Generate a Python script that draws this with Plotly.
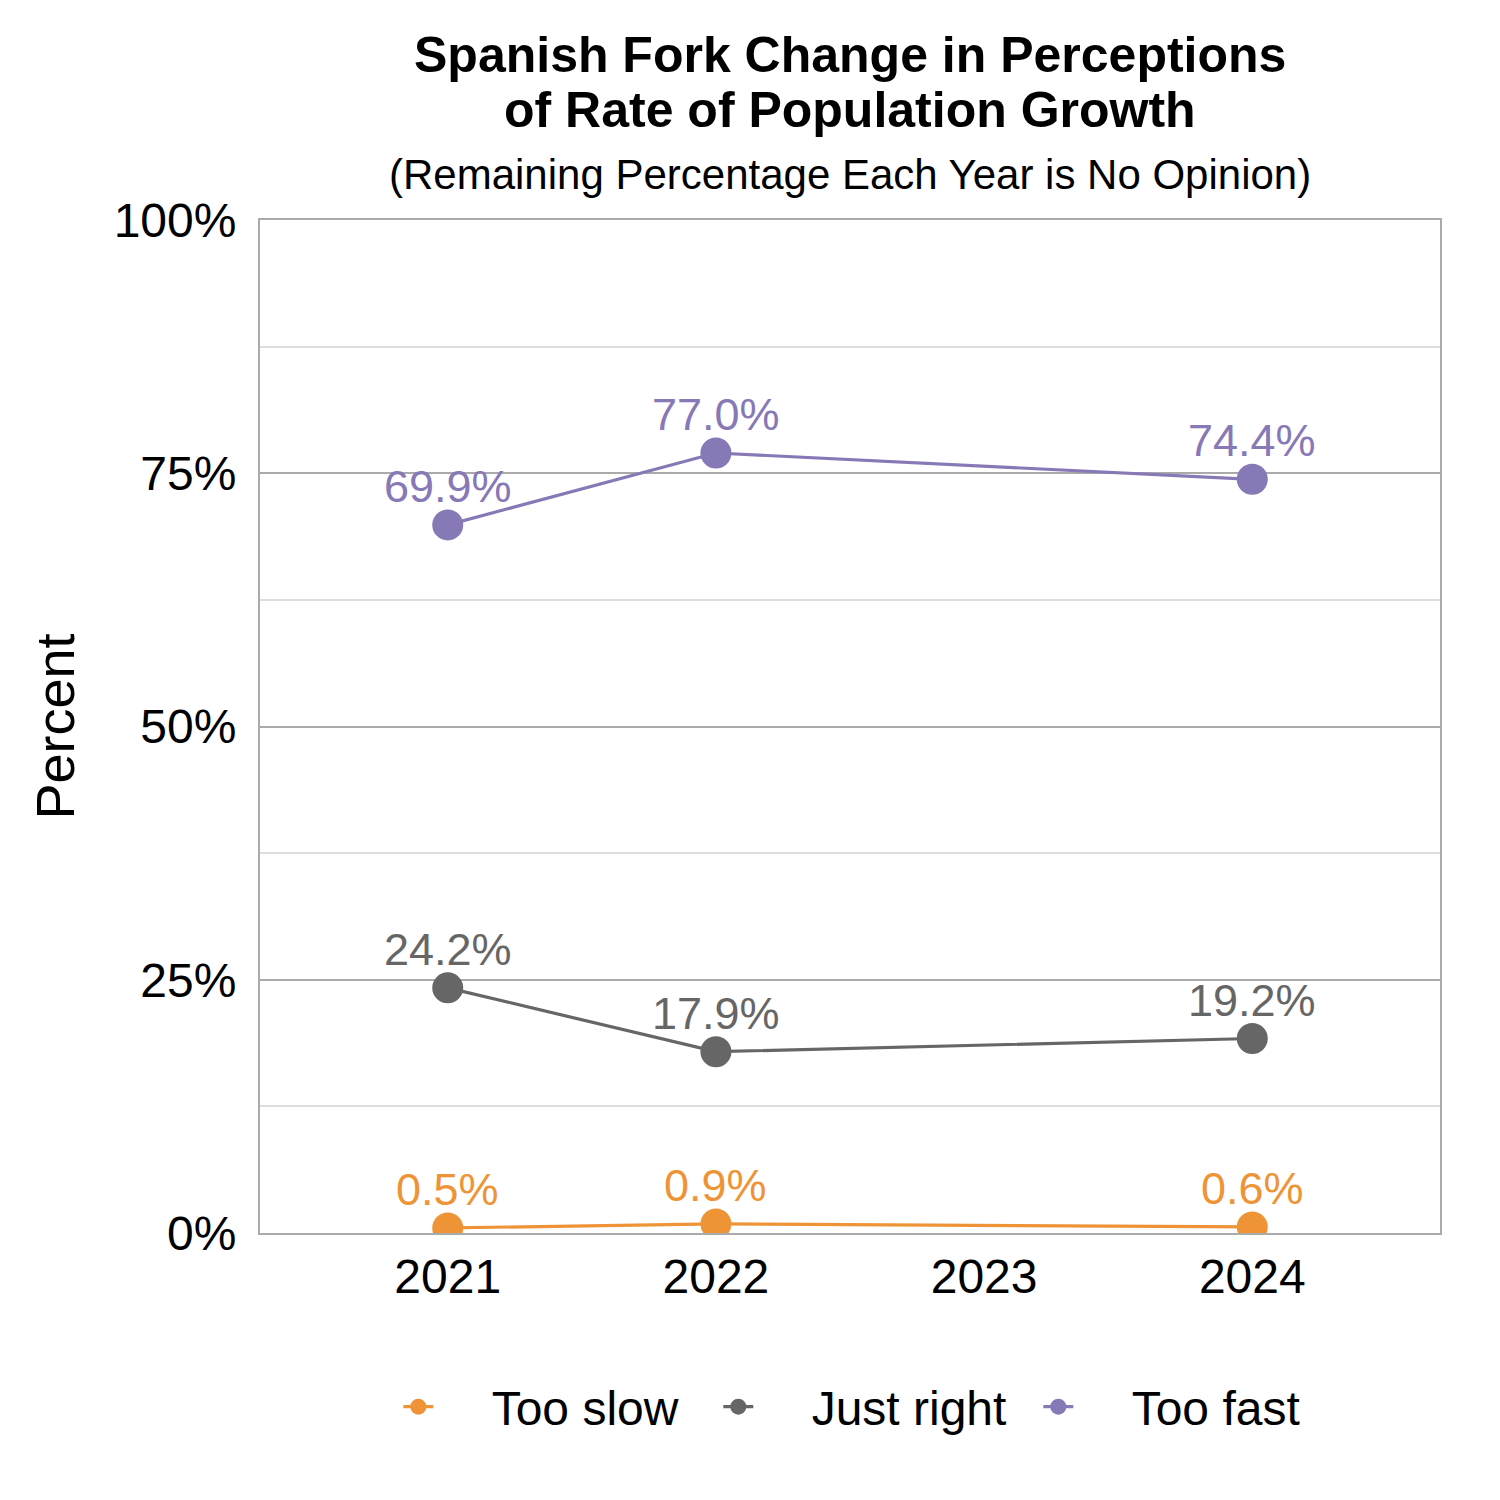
import plotly.graph_objects as go

# ── Datos ─────────────────────────────────────────────────────────────────────
YEARS      = [2021, 2022, 2024]
TOO_SLOW   = [0.5, 0.9, 0.6]
JUST_RIGHT = [24.2, 17.9, 19.2]
TOO_FAST   = [69.9, 77.0, 74.4]

X_TICKS = [2021, 2022, 2023, 2024]
Y_TICKS = [0, 25, 50, 75, 100]

SERIES = [
    ("Too slow",   TOO_SLOW,   "#EE9436"),
    ("Just right", JUST_RIGHT, "#666666"),
    ("Too fast",   TOO_FAST,   "#8778B6"),
]

TITLE_LINES = ["Spanish Fork Change in Perceptions", "of Rate of Population Growth"]
SUBTITLE    = "(Remaining Percentage Each Year is No Opinion)"

FONT = "Liberation Sans, Arial, sans-serif"

# plot area (px, referencia): top 220, bottom 1233
PLOT_TOP, PLOT_BOTTOM = 220, 1233


def py_to_paper(py):
    return (PLOT_BOTTOM - py) / (PLOT_BOTTOM - PLOT_TOP)


fig = go.Figure()
for name, vals, color in SERIES:
    fig.add_trace(go.Scatter(
        x=YEARS, y=vals, name="\u00a0\u00a0\u00a0\u00a0" + name,
        mode="lines+markers",
        line=dict(color=color, width=3.2),
        marker=dict(color=color, size=31),
        cliponaxis=True,
    ))
    # etiquetas de valor encima de cada punto
    for x, v in zip(YEARS, vals):
        fig.add_annotation(
            x=x, y=v, text=f"{v:.1f}%",
            xanchor="center", yanchor="bottom", yshift=11,
            showarrow=False,
            font=dict(family=FONT, size=45, color=color),
        )

fig.update_layout(
    width=1500, height=1500,
    plot_bgcolor="white", paper_bgcolor="white",
    font=dict(family=FONT, size=48, color="black"),
    margin=dict(l=252, r=68, t=212, b=275),
    showlegend=True,
    legend=dict(
        orientation="h", x=0.524, xanchor="center",
        y=py_to_paper(1407), yanchor="middle",
        font=dict(family=FONT, size=48, color="black"),
        entrywidth=275, entrywidthmode="pixels",
    ),
)

# título en dos líneas + subtítulo
for text, py in zip(TITLE_LINES, [55, 110]):
    fig.add_annotation(
        text=f"<b>{text}</b>",
        xref="paper", yref="paper", x=0.5, y=py_to_paper(py),
        xanchor="center", yanchor="middle", showarrow=False,
        font=dict(family=FONT, size=50, color="black"),
    )
fig.add_annotation(
    text=SUBTITLE,
    xref="paper", yref="paper", x=0.5, y=py_to_paper(174),
    xanchor="center", yanchor="middle", showarrow=False,
    font=dict(family=FONT, size=42, color="black"),
)

fig.update_xaxes(
    range=[2020.3, 2024.7],
    tickvals=X_TICKS, ticktext=[str(t) for t in X_TICKS],
    showgrid=False, zeroline=False,
    showline=True, mirror=True, linecolor="#AAAAAA", linewidth=2,
    ticks="", tickfont=dict(size=48),
)
fig.update_yaxes(
    range=[0, 100],
    tickvals=Y_TICKS, ticktext=[f"{t}%" for t in Y_TICKS],
    ticklabelstandoff=12,
    showgrid=True, gridcolor="#AAAAAA", gridwidth=2,
    minor=dict(dtick=12.5, showgrid=True, gridcolor="#DDDDDD", gridwidth=1.5),
    zeroline=False,
    showline=True, mirror=True, linecolor="#AAAAAA", linewidth=2,
    ticks="", tickfont=dict(size=48),
    title=dict(text="Percent", font=dict(size=54), standoff=22),
)

fig.write_html("out.html")
